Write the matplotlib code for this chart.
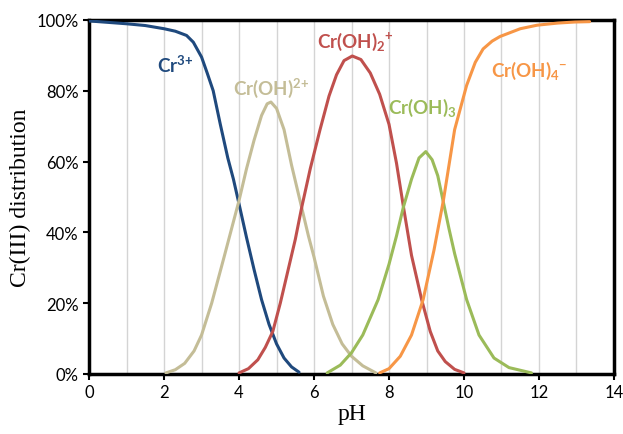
import matplotlib
matplotlib.use("Agg")
import matplotlib.pyplot as plt
from matplotlib.ticker import PercentFormatter

# values (pH, % of Cr(III))
ph_cr3 = [0, 0.5, 1.0, 1.5, 2.0, 2.3, 2.6, 2.78, 3.0, 3.15, 3.31, 3.5, 3.7, 3.85, 4.0, 4.2, 4.4, 4.6, 4.8, 5.0, 5.2, 5.4, 5.6]
cr3 = [99.7, 99.3, 98.9, 98.4, 97.5, 96.8, 95.6, 93.7, 89.5, 85, 80, 70.5, 61, 55, 48, 38.5, 29.5, 21, 14, 8.5, 4.5, 2, 0.5]

ph_oh = [2.05, 2.3, 2.55, 2.8, 3.0, 3.27, 3.6, 3.8, 4.0, 4.2, 4.4, 4.6, 4.75, 4.85, 5.0, 5.2, 5.4, 5.67, 5.85, 6.0, 6.25, 6.5, 6.75, 7.0, 7.3, 7.65]
cr_oh = [0.3, 1.2, 3, 6.5, 11, 20, 33, 41, 49, 58, 66, 73, 76.3, 76.8, 75, 69, 59, 47, 39, 33, 22, 14, 8.5, 5, 2.3, 0.3]

ph_oh2 = [4.0, 4.25, 4.5, 4.7, 4.9, 5.1, 5.3, 5.5, 5.67, 5.9, 6.16, 6.4, 6.6, 6.8, 7.02, 7.25, 7.5, 7.75, 8.0, 8.2, 8.38, 8.6, 8.87, 9.1, 9.3, 9.5, 9.75, 10.0]
cr_oh2 = [0.3, 1.5, 4, 7.5, 12, 20, 29, 38, 47, 58, 69, 78.5, 84.5, 88.5, 89.8, 88.8, 85, 79, 70.5, 59.5, 47.5, 33.5, 21, 12, 6.5, 3.5, 1.3, 0.3]

ph_oh3 = [6.35, 6.7, 7.0, 7.3, 7.71, 8.0, 8.2, 8.38, 8.6, 8.8, 8.98, 9.15, 9.3, 9.45, 9.6, 9.75, 10.07, 10.4, 10.8, 11.2, 11.8]
cr_oh3 = [0.3, 2.5, 6, 11, 21, 31, 39, 47, 55, 61, 62.8, 60.5, 56, 48.5, 41, 34, 21, 11, 4.5, 1.8, 0.3]

ph_oh4 = [7.75, 8.0, 8.3, 8.6, 8.91, 9.2, 9.45, 9.75, 10.07, 10.3, 10.51, 10.75, 10.96, 11.5, 11.95, 12.5, 12.96, 13.35]
cr_oh4 = [0.3, 1.5, 5, 11, 21, 35, 49, 69, 81.5, 88, 91.8, 94, 95.3, 97.5, 98.5, 99.1, 99.4, 99.5]

plt.rcParams['mathtext.fontset'] = 'custom'
plt.rcParams['mathtext.rm'] = 'Lato:bold'
plt.rcParams['mathtext.bf'] = 'Lato:bold'

fig = plt.figure(figsize=(6.23, 4.35), dpi=100)
ax = fig.add_axes([0.143, 0.138, 0.8425, 0.814])

series = [
    (ph_cr3, cr3, '#1F497D', r'Cr$^{3\!+}$', 2.3, 87.5),
    (ph_oh, cr_oh, '#C4BD97', r'Cr(OH)$^{2\!+}$', 4.85, 81),
    (ph_oh2, cr_oh2, '#C0504D', r'Cr(OH)$_2$$^{+}$', 7.1, 94),
    (ph_oh3, cr_oh3, '#9BBB59', r'Cr(OH)$_3$', 8.9, 75.5),
    (ph_oh4, cr_oh4, '#F79646', r'Cr(OH)$_4$$^{-}$', 11.75, 86),
]
for x, y, col, lab, tx, ty in series:
    ax.plot(x, y, color=col, lw=2.2, solid_joinstyle='round', solid_capstyle='round', zorder=3)
    ax.text(tx, ty, lab, color=col, fontsize=13.5, family='Lato', fontweight='bold',
            ha='center', va='center', zorder=4)

ax.set_xlim(0, 14)
ax.set_ylim(0, 100)
ax.set_xticks(range(0, 15, 2))
ax.set_xticks(range(0, 15), minor=True)
ax.set_yticks(range(0, 101, 20))
ax.yaxis.set_major_formatter(PercentFormatter(decimals=0))
ax.grid(True, which='both', axis='x', color='#D4D4D4', lw=1, zorder=0)
ax.tick_params(which='minor', length=0)
ax.tick_params(which='major', length=4, width=1.5, direction='out', labelsize=12)
for lbl in ax.get_xticklabels() + ax.get_yticklabels():
    lbl.set_family('Lato')
for s in ax.spines.values():
    s.set_linewidth(2.5)
    s.set_color('black')

ax.set_xlabel('pH', family='Liberation Serif', fontsize=17, labelpad=2)
ax.set_ylabel('Cr(III) distribution', family='Liberation Serif', fontsize=17, labelpad=4)

fig.savefig('out.png', dpi=100)
